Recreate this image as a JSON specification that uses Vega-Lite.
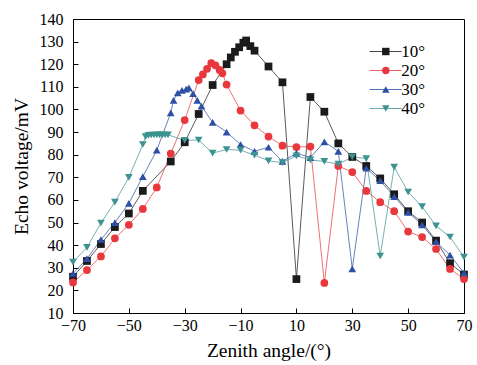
{
  "$schema": "https://vega.github.io/schema/vega-lite/v6.json",
  "width": 391,
  "height": 294,
  "autosize": {"type": "none"},
  "padding": {"left": 73, "top": 19, "right": 13, "bottom": 52},
  "background": "white",
  "config": {
    "font": "Liberation Serif",
    "view": {"stroke": "black", "strokeWidth": 1},
    "axis": {
      "grid": false,
      "domainColor": "black",
      "domainWidth": 1,
      "tickColor": "black",
      "tickWidth": 1,
      "tickSize": -5,
      "labelColor": "black",
      "titleColor": "black",
      "labelFont": "Liberation Serif",
      "titleFont": "Liberation Serif",
      "labelFontSize": 16,
      "titleFontSize": 19.5,
      "titleFontWeight": "normal"
    }
  },
  "data": {
    "values": [
      {"s": "10°", "x": -70, "y": 26}, {"s": "10°", "x": -65, "y": 33}, {"s": "10°", "x": -60, "y": 40.5}, {"s": "10°", "x": -55, "y": 48}, {"s": "10°", "x": -50, "y": 54}, {"s": "10°", "x": -45, "y": 64}, {"s": "10°", "x": -35, "y": 77}, {"s": "10°", "x": -30, "y": 85.5}, {"s": "10°", "x": -25, "y": 98}, {"s": "10°", "x": -20, "y": 110.8}, {"s": "10°", "x": -15, "y": 120}, {"s": "10°", "x": -13.5, "y": 123}, {"s": "10°", "x": -12, "y": 125.5}, {"s": "10°", "x": -10.5, "y": 127.5}, {"s": "10°", "x": -9, "y": 129.5}, {"s": "10°", "x": -8, "y": 130.5}, {"s": "10°", "x": -6.5, "y": 128}, {"s": "10°", "x": -5, "y": 126}, {"s": "10°", "x": 0, "y": 119}, {"s": "10°", "x": 5, "y": 112}, {"s": "10°", "x": 10, "y": 25}, {"s": "10°", "x": 15, "y": 105.5}, {"s": "10°", "x": 20, "y": 99}, {"s": "10°", "x": 25, "y": 85}, {"s": "10°", "x": 30, "y": 79}, {"s": "10°", "x": 35, "y": 75}, {"s": "10°", "x": 40, "y": 69.5}, {"s": "10°", "x": 45, "y": 62.5}, {"s": "10°", "x": 50, "y": 55}, {"s": "10°", "x": 55, "y": 50}, {"s": "10°", "x": 60, "y": 42}, {"s": "10°", "x": 65, "y": 32}, {"s": "10°", "x": 70, "y": 27},
      {"s": "20°", "x": -70, "y": 23.5}, {"s": "20°", "x": -65, "y": 29}, {"s": "20°", "x": -60, "y": 35}, {"s": "20°", "x": -55, "y": 43}, {"s": "20°", "x": -50, "y": 49}, {"s": "20°", "x": -45, "y": 56}, {"s": "20°", "x": -40, "y": 65.5}, {"s": "20°", "x": -35, "y": 80.5}, {"s": "20°", "x": -30, "y": 95.3}, {"s": "20°", "x": -25, "y": 113}, {"s": "20°", "x": -23.5, "y": 115.5}, {"s": "20°", "x": -22, "y": 118}, {"s": "20°", "x": -20.5, "y": 120.5}, {"s": "20°", "x": -19, "y": 119.5}, {"s": "20°", "x": -17.5, "y": 117.5}, {"s": "20°", "x": -16.5, "y": 116}, {"s": "20°", "x": -15, "y": 111}, {"s": "20°", "x": -10, "y": 99.5}, {"s": "20°", "x": -5, "y": 93}, {"s": "20°", "x": 0, "y": 88}, {"s": "20°", "x": 5, "y": 84}, {"s": "20°", "x": 10, "y": 83.4}, {"s": "20°", "x": 15, "y": 83.6}, {"s": "20°", "x": 20, "y": 23.3}, {"s": "20°", "x": 25, "y": 75}, {"s": "20°", "x": 30, "y": 72.3}, {"s": "20°", "x": 35, "y": 64}, {"s": "20°", "x": 40, "y": 59}, {"s": "20°", "x": 45, "y": 55}, {"s": "20°", "x": 50, "y": 46}, {"s": "20°", "x": 55, "y": 43.6}, {"s": "20°", "x": 60, "y": 38.3}, {"s": "20°", "x": 65, "y": 29.5}, {"s": "20°", "x": 70, "y": 25},
      {"s": "30°", "x": -70, "y": 27.5}, {"s": "30°", "x": -65, "y": 34}, {"s": "30°", "x": -60, "y": 42.5}, {"s": "30°", "x": -55, "y": 50}, {"s": "30°", "x": -50, "y": 58.5}, {"s": "30°", "x": -45, "y": 70.3}, {"s": "30°", "x": -40, "y": 82}, {"s": "30°", "x": -35, "y": 98.5}, {"s": "30°", "x": -34, "y": 104}, {"s": "30°", "x": -32.5, "y": 107.3}, {"s": "30°", "x": -31, "y": 108.4}, {"s": "30°", "x": -29.5, "y": 109}, {"s": "30°", "x": -28.5, "y": 109.5}, {"s": "30°", "x": -27, "y": 107}, {"s": "30°", "x": -25.5, "y": 104}, {"s": "30°", "x": -24, "y": 101.5}, {"s": "30°", "x": -20, "y": 94.3}, {"s": "30°", "x": -15, "y": 90}, {"s": "30°", "x": -10, "y": 84.5}, {"s": "30°", "x": -5, "y": 81.5}, {"s": "30°", "x": 0, "y": 83.3}, {"s": "30°", "x": 5, "y": 77}, {"s": "30°", "x": 10, "y": 80.7}, {"s": "30°", "x": 15, "y": 78.7}, {"s": "30°", "x": 20, "y": 85.7}, {"s": "30°", "x": 25, "y": 81.5}, {"s": "30°", "x": 30, "y": 29.5}, {"s": "30°", "x": 35, "y": 74}, {"s": "30°", "x": 40, "y": 68.5}, {"s": "30°", "x": 45, "y": 61.5}, {"s": "30°", "x": 50, "y": 54.5}, {"s": "30°", "x": 55, "y": 49}, {"s": "30°", "x": 60, "y": 41.5}, {"s": "30°", "x": 65, "y": 35.6}, {"s": "30°", "x": 70, "y": 27.7},
      {"s": "40°", "x": -70, "y": 32.5}, {"s": "40°", "x": -65, "y": 39}, {"s": "40°", "x": -60, "y": 49.8}, {"s": "40°", "x": -55, "y": 59}, {"s": "40°", "x": -50, "y": 70}, {"s": "40°", "x": -45, "y": 84.5}, {"s": "40°", "x": -44, "y": 88}, {"s": "40°", "x": -43, "y": 88.5}, {"s": "40°", "x": -42, "y": 88.7}, {"s": "40°", "x": -41, "y": 88.7}, {"s": "40°", "x": -40, "y": 88.8}, {"s": "40°", "x": -39, "y": 88.8}, {"s": "40°", "x": -38, "y": 88.8}, {"s": "40°", "x": -37, "y": 88.7}, {"s": "40°", "x": -36, "y": 88.8}, {"s": "40°", "x": -30, "y": 86.3}, {"s": "40°", "x": -25, "y": 86.5}, {"s": "40°", "x": -20, "y": 80.7}, {"s": "40°", "x": -15, "y": 82.3}, {"s": "40°", "x": -10, "y": 82}, {"s": "40°", "x": -5, "y": 79.8}, {"s": "40°", "x": 0, "y": 77.3}, {"s": "40°", "x": 5, "y": 76.5}, {"s": "40°", "x": 10, "y": 79.5}, {"s": "40°", "x": 15, "y": 77.7}, {"s": "40°", "x": 20, "y": 77}, {"s": "40°", "x": 25, "y": 75.8}, {"s": "40°", "x": 30, "y": 79}, {"s": "40°", "x": 35, "y": 78.3}, {"s": "40°", "x": 40, "y": 35.2}, {"s": "40°", "x": 45, "y": 74.5}, {"s": "40°", "x": 50, "y": 63.5}, {"s": "40°", "x": 55, "y": 57}, {"s": "40°", "x": 60, "y": 48.5}, {"s": "40°", "x": 65, "y": 43.6}, {"s": "40°", "x": 70, "y": 34.7}
    ]
  },
  "encoding": {
    "x": {
      "field": "x", "type": "quantitative",
      "scale": {"domain": [-70, 70], "nice": false, "zero": false},
      "axis": {"values": [-70, -50, -30, -10, 10, 30, 50, 70], "title": "Zenith angle/(°)", "labelPadding": 9, "labelFlush": false, "titlePadding": 8}
    },
    "y": {
      "field": "y", "type": "quantitative",
      "scale": {"domain": [10, 140], "nice": false, "zero": false},
      "axis": {"values": [10, 20, 30, 40, 50, 60, 70, 80, 90, 100, 110, 120, 130, 140], "title": "Echo voltage/mV", "labelPadding": 15, "titlePadding": 8}
    }
  },
  "layer": [
    {
      "mark": {"type": "line", "strokeWidth": 0.9, "opacity": 0.8},
      "encoding": {
        "stroke": {
          "field": "s", "type": "nominal",
          "scale": {"domain": ["10°", "20°", "30°", "40°"], "range": ["#1b1b1b", "#e8383d", "#2d4fa5", "#3c9390"]},
          "legend": {"orient": "none", "legendX": 304, "legendY": 24, "title": null, "symbolType": "M-4,0H4", "symbolSize": 64, "symbolStrokeWidth": 1.2, "labelFont": "Liberation Serif", "labelFontSize": 17, "labelExpr": "''", "labelOffset": 7, "rowPadding": 1, "padding": 0}
        }
      }
    },
    {
      "mark": {"type": "point", "filled": true, "opacity": 1, "size": 60, "strokeWidth": 0},
      "encoding": {
        "fill": {
          "field": "s", "type": "nominal",
          "scale": {"range": ["#1b1b1b", "#e8383d", "#2d4fa5", "#3c9390"]},
          "legend": {"orient": "none", "legendX": 304.3, "legendY": 24, "title": null, "symbolSize": 55, "symbolStrokeWidth": 0, "labelFont": "Liberation Serif", "labelFontSize": 17, "labelColor": "black", "labelOffset": 7, "rowPadding": 1, "padding": 0}
        },
        "shape": {
          "field": "s", "type": "nominal",
          "scale": {"range": ["square", "circle", "triangle-up", "triangle-down"]},
          "legend": {"orient": "none", "legendX": 304.3, "legendY": 24, "title": null, "symbolSize": 55, "symbolStrokeWidth": 0, "labelFont": "Liberation Serif", "labelFontSize": 17, "labelColor": "black", "labelOffset": 7, "rowPadding": 1, "padding": 0}
        }
      }
    }
  ]
}
